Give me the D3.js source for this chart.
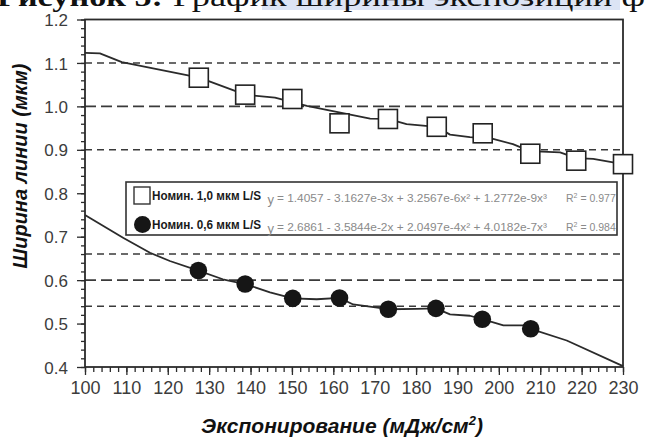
<!DOCTYPE html>
<html>
<head>
<meta charset="utf-8">
<script src="https://cdn.jsdelivr.net/npm/d3@7"></script>
<style>
  html, body { margin: 0; padding: 0; background: #fff; }
  svg { display: block; }
</style>
</head>
<body>
<svg id="chart" width="647" height="441"></svg>
<script>
// Exposure dose (mJ/cm²) and measured line width (µm), nominal 1.0 µm L/S
const exposure1 = [127.5, 138.7, 150.1, 161.5, 173.2, 185.0, 196.1, 207.6, 218.7, 230.0];
const width1    = [1.066, 1.027, 1.017, 0.961, 0.971, 0.953, 0.938, 0.891, 0.875, 0.867];

// Nominal 0.6 µm L/S
const exposure2 = [127.4, 138.7, 150.2, 161.5, 173.3, 184.8, 196.0, 207.7];
const width2    = [0.622, 0.591, 0.558, 0.559, 0.533, 0.535, 0.510, 0.488];

// Trend curves as drawn
const fitX1 = [100, 103.6, 108.9, 127.6, 138.7, 145.9, 153.6, 168.9, 173.2, 177.7, 185.0, 188.2, 193.0, 198.6, 203.4, 207.5, 214.8, 218.7, 222.8, 230];
const fitY1 = [1.123, 1.122, 1.102, 1.066, 1.027, 1.020, 1.001, 0.972, 0.971, 0.959, 0.953, 0.935, 0.929, 0.925, 0.913, 0.897, 0.894, 0.881, 0.879, 0.867];
const fitX2 = [100, 101.2, 109.3, 115.7, 120.5, 127.4, 133.3, 138.7, 144.7, 150.2, 156.0, 161.5, 164.8, 173.3, 180.2, 184.8, 188.2, 193.0, 196.0, 201.1, 205.9, 207.7, 216.4, 230];
const fitY2 = [0.750, 0.743, 0.697, 0.663, 0.644, 0.622, 0.602, 0.591, 0.572, 0.558, 0.556, 0.559, 0.544, 0.533, 0.534, 0.535, 0.521, 0.518, 0.510, 0.496, 0.496, 0.488, 0.461, 0.402];

// Target widths (long dashes) and ±10 % limits (short dashes)
const targetLevels = [1.0, 0.6];
const limitLevels  = [1.1, 0.9, 0.66, 0.54];

// Axis ticks
const xTicks = [100, 110, 120, 130, 140, 150, 160, 170, 180, 190, 200, 210, 220, 230];
const yTicks = [0.4, 0.5, 0.6, 0.7, 0.8, 0.9, 1.0, 1.1, 1.2];

// Legend text
const seriesNames = ["Номин. 1,0 мкм L/S", "Номин. 0,6 мкм L/S"];
const equations = [
  "= 1.4057 - 3.1627e-3x + 3.2567e-6x² + 1.2772e-9x³",
  "= 2.6861 - 3.5844e-2x + 2.0497e-4x² + 4.0182e-7x³"
];
const rSquared = ["0.977", "0.984"];

const svg = d3.select("#chart");
const M = { left: 85, right: 623, top: 19.5, bottom: 367 };

const x = d3.scaleLinear().domain([100, 230]).range([M.left, M.right]);
const y = d3.scaleLinear().domain([0.4, 1.2]).range([M.bottom, M.top]);

const ink = "#2b2b2b";
const axisFont = "'Liberation Sans', Arial, sans-serif";

// Caption strip at the very top (mostly cut off by the frame)
svg.append("rect").attr("x", 262).attr("y", 0).attr("width", 358).attr("height", 10)
  .attr("fill", "#dce4f5");
svg.append("text").attr("x", -3).attr("y", 6)
  .attr("font-family", "'Liberation Serif', 'DejaVu Serif', serif")
  .attr("font-size", 27).attr("font-weight", "bold").attr("fill", "#111")
  .attr("textLength", 166).attr("lengthAdjust", "spacingAndGlyphs")
  .text("Рисунок 5:");
svg.append("text").attr("x", 173).attr("y", 6)
  .attr("font-family", "'Liberation Serif', 'DejaVu Serif', serif")
  .attr("font-size", 27).attr("fill", "#111")
  .attr("textLength", 472).attr("lengthAdjust", "spacingAndGlyphs")
  .text("График ширины экспозиции ф");

// Reference levels
const refG = svg.append("g");
refG.selectAll("line.target").data(targetLevels).join("line")
  .attr("class", "target")
  .attr("x1", M.left).attr("x2", M.right)
  .attr("y1", d => y(d)).attr("y2", d => y(d))
  .attr("stroke", "#3a3a3a").attr("stroke-width", 1.6)
  .attr("stroke-dasharray", "11,5");
refG.selectAll("line.limit").data(limitLevels).join("line")
  .attr("class", "limit")
  .attr("x1", M.left).attr("x2", M.right)
  .attr("y1", d => y(d)).attr("y2", d => y(d))
  .attr("stroke", "#3a3a3a").attr("stroke-width", 1.6)
  .attr("stroke-dasharray", "7,5");

// Trend curves
const curve = d3.line().x(d => x(d[0])).y(d => y(d[1]));
svg.append("path").datum(d3.zip(fitX1, fitY1)).attr("d", curve)
  .attr("fill", "none").attr("stroke", ink).attr("stroke-width", 1.8)
  .attr("stroke-linejoin", "round");
svg.append("path").datum(d3.zip(fitX2, fitY2)).attr("d", curve)
  .attr("fill", "none").attr("stroke", ink).attr("stroke-width", 1.8)
  .attr("stroke-linejoin", "round");

// Axes
const gx = svg.append("g").attr("transform", `translate(0,${M.bottom})`);
gx.call(d3.axisBottom(x).tickValues(d3.range(100, 231, 2)).tickSize(5).tickFormat(""));
const gxMaj = svg.append("g").attr("transform", `translate(0,${M.bottom})`);
gxMaj.call(d3.axisBottom(x).tickValues(xTicks).tickSize(8).tickPadding(6).tickFormat(d3.format("d")));
const gy = svg.append("g").attr("transform", `translate(${M.left},0)`);
gy.call(d3.axisLeft(y).tickValues(d3.range(0, 41).map(i => 0.4 + i * 0.02)).tickSize(4).tickFormat(""));
const gyMaj = svg.append("g").attr("transform", `translate(${M.left},0)`);
gyMaj.call(d3.axisLeft(y).tickValues(yTicks).tickSize(8).tickPadding(9).tickFormat(d3.format(".1f")));

[gx, gxMaj, gy, gyMaj].forEach(g => {
  g.select(".domain").remove();
  g.selectAll(".tick line").attr("stroke", ink).attr("stroke-width", 1.3);
});
gxMaj.selectAll(".tick text").attr("font-family", axisFont).attr("font-size", 18)
  .attr("fill", "#3c3c3c");
gyMaj.selectAll(".tick text").attr("font-family", axisFont).attr("font-size", 17)
  .attr("fill", "#3c3c3c").attr("dy", "0.36em");

// Plot frame
svg.append("rect").attr("x", M.left).attr("y", M.top)
  .attr("width", M.right - M.left).attr("height", M.bottom - M.top)
  .attr("fill", "none").attr("stroke", ink).attr("stroke-width", 1.8);

// Data markers
svg.append("g").selectAll("rect").data(d3.zip(exposure1, width1)).join("rect")
  .attr("x", d => x(d[0]) - 9.5).attr("y", d => y(d[1]) - 9.5)
  .attr("width", 19).attr("height", 19)
  .attr("fill", "#fff").attr("stroke", "#222").attr("stroke-width", 1.6);
svg.append("g").selectAll("circle").data(d3.zip(exposure2, width2)).join("circle")
  .attr("cx", d => x(d[0])).attr("cy", d => y(d[1])).attr("r", 8.8)
  .attr("fill", "#161616");

// Axis titles
svg.append("text")
  .attr("transform", "translate(27,166) rotate(-90)")
  .attr("text-anchor", "middle")
  .attr("font-family", axisFont).attr("font-size", 20)
  .attr("font-weight", "bold").attr("font-style", "italic").attr("fill", "#111")
  .text("Ширина линии (мкм)");
const xt = svg.append("text")
  .attr("x", 342).attr("y", 433)
  .attr("text-anchor", "middle")
  .attr("font-family", axisFont).attr("font-size", 21)
  .attr("font-weight", "bold").attr("font-style", "italic").attr("fill", "#111");
xt.append("tspan").text("Экспонирование (мДж/см");
xt.append("tspan").attr("font-size", 13).attr("dy", -8).text("2");
xt.append("tspan").attr("dy", 8).text(")");

// Legend
const lg = svg.append("g");
lg.append("rect").attr("x", 126).attr("y", 182).attr("width", 491).attr("height", 53)
  .attr("fill", "#fff").attr("stroke", "#333").attr("stroke-width", 1.6);
const rows = [195.5, 224.5];
lg.append("rect").attr("x", 134).attr("y", rows[0] - 8.5).attr("width", 16).attr("height", 17)
  .attr("fill", "#fff").attr("stroke", "#333").attr("stroke-width", 1.4);
lg.append("circle").attr("cx", 142.5).attr("cy", rows[1]).attr("r", 8.5).attr("fill", "#161616");
rows.forEach((ry, i) => {
  lg.append("text").attr("x", 152).attr("y", ry + 4)
    .attr("font-family", axisFont).attr("font-size", 12.5).attr("font-weight", "bold")
    .attr("fill", "#1a1a1a")
    .attr("textLength", 109).attr("lengthAdjust", "spacingAndGlyphs")
    .text(seriesNames[i]);
  lg.append("text").attr("x", 267.5).attr("y", ry + 8)
    .attr("font-family", axisFont).attr("font-size", 13).attr("fill", "#8a8a8a")
    .text("y");
  lg.append("text").attr("x", 277).attr("y", ry + 6)
    .attr("font-family", axisFont).attr("font-size", 10.5).attr("fill", "#8a8a8a")
    .attr("textLength", 270).attr("lengthAdjust", "spacingAndGlyphs")
    .text(equations[i]);
  const r2 = lg.append("text").attr("x", 566).attr("y", ry + 6)
    .attr("font-family", axisFont).attr("font-size", 10.5).attr("fill", "#8a8a8a");
  r2.append("tspan").text("R");
  r2.append("tspan").attr("font-size", 7).attr("dy", -4).text("2");
  r2.append("tspan").attr("dy", 4).text(" = " + rSquared[i]);
});
</script>
</body>
</html>
